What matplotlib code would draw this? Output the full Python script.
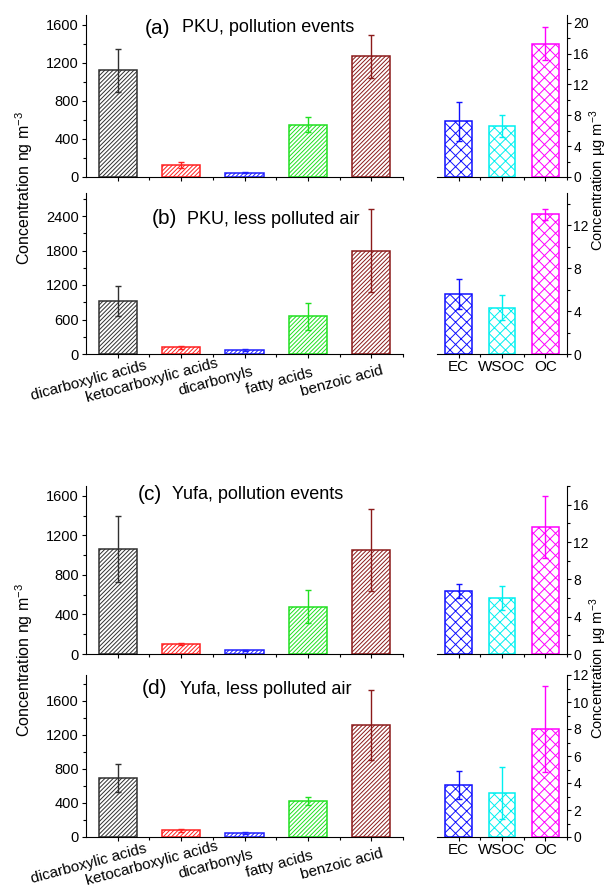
import matplotlib
matplotlib.use('Agg')
import matplotlib.pyplot as plt
import matplotlib.transforms as mtransforms
from matplotlib.ticker import MultipleLocator

plt.rcParams['font.family'] = ['Liberation Sans', 'DejaVu Sans']
plt.rcParams['mathtext.fontset'] = 'custom'
plt.rcParams['mathtext.rm'] = 'Liberation Sans'
plt.rcParams['mathtext.default'] = 'rm'
plt.rcParams['hatch.linewidth'] = 0.7

W, H = 609, 889

categories = ['dicarboxylic acids', 'ketocarboxylic acids', 'dicarbonyls',
              'fatty acids', 'benzoic acid']
carbon_labels = ['EC', 'WSOC', 'OC']

# organic species, ng m-3 (mean, error)
pku_polluted = [1120, 125, 45, 550, 1265]
pku_polluted_err = [225, 30, 5, 75, 230]
pku_clean = [925, 116, 70, 655, 1800]
pku_clean_err = [260, 25, 20, 240, 730]
yufa_polluted = [1063, 100, 37, 480, 1057]
yufa_polluted_err = [330, 10, 8, 170, 415]
yufa_clean = [691, 78, 50, 422, 1312]
yufa_clean_err = [165, 15, 10, 47, 410]

# carbon fractions, ug m-3
pku_polluted_c = [7.2, 6.6, 17.3]
pku_polluted_c_err = [2.5, 1.4, 2.1]
pku_clean_c = [5.6, 4.33, 13.0]
pku_clean_c_err = [1.4, 1.2, 0.55]
yufa_polluted_c = [6.75, 6.0, 13.6]
yufa_polluted_c_err = [0.7, 1.25, 3.3]
yufa_clean_c = [3.85, 3.25, 8.0]
yufa_clean_c_err = [1.07, 1.95, 3.2]

species_colors = ['#303030', '#ff2020', '#2020ff', '#20e020', '#8b1a1a']
carbon_colors = ['#1010ff', '#00f0f0', '#ff00ff']

fig = plt.figure(figsize=(W / 100, H / 100), dpi=100)


def px_axes(x0, y0, x1, y1):
    return fig.add_axes([x0 / W, 1 - y1 / H, (x1 - x0) / W, (y1 - y0) / H])


def style(ax, side, size=10.5, pad=2):
    for s in ['top', 'left', 'right']:
        ax.spines[s].set_visible(False)
    ax.spines[side].set_visible(True)
    ax.yaxis.set_ticks_position(side)
    ax.tick_params(axis='both', which='major', direction='out', length=3,
                   width=0.8, labelsize=size, pad=pad)
    ax.tick_params(axis='both', which='minor', direction='out', length=2,
                   width=0.8)
    ax.set_facecolor('none')


def draw_species(ax, vals, errs, ymax, step, show_labels):
    x = range(len(vals))
    ax.bar(x, vals, width=0.6, facecolor='white', edgecolor=species_colors,
           hatch='////////', linewidth=1.1)
    for i in x:
        ax.errorbar(i, vals[i], yerr=errs[i], color=species_colors[i],
                    elinewidth=1, capsize=2, capthick=1)
    style(ax, 'left')
    ax.set_xlim(-0.5, 4.5)
    ax.set_ylim(0, ymax)
    ax.yaxis.set_major_locator(MultipleLocator(step))
    ax.yaxis.set_minor_locator(MultipleLocator(step / 2))
    ax.set_xticks(list(x))
    ax.set_xticks([i + 0.5 for i in x], minor=True)
    if show_labels:
        ax.set_xticklabels(categories, rotation=15, ha='center', va='center',
                           rotation_mode='anchor', fontsize=11)
        shift = mtransforms.ScaledTranslation(-0.29, -0.2, fig.dpi_scale_trans)
        for lab in ax.get_xticklabels():
            lab.set_transform(lab.get_transform() + shift)
    else:
        ax.set_xticklabels([])


def draw_carbon(ax, vals, errs, ymax, step, show_labels):
    x = range(len(vals))
    ax.bar(x, vals, width=0.62, facecolor='white', edgecolor=carbon_colors,
           hatch='xxx', linewidth=1.1)
    for i in x:
        ax.errorbar(i, vals[i], yerr=errs[i], color=carbon_colors[i],
                    elinewidth=1, capsize=2, capthick=1)
    style(ax, 'right', size=10, pad=1.5)
    ax.set_xlim(-0.5, 2.5)
    ax.set_ylim(0, ymax)
    ax.yaxis.set_major_locator(MultipleLocator(step))
    ax.yaxis.set_minor_locator(MultipleLocator(step / 2))
    ax.set_xticks(list(x))
    ax.set_xticks([i + 0.5 for i in x], minor=True)
    if show_labels:
        ax.set_xticklabels(carbon_labels, fontsize=11)
    else:
        ax.set_xticklabels([])


rows = [(15, 177), (193, 354), (486, 654), (675, 837)]
species = [(pku_polluted, pku_polluted_err, 1700, 400),
           (pku_clean, pku_clean_err, 2800, 600),
           (yufa_polluted, yufa_polluted_err, 1700, 400),
           (yufa_clean, yufa_clean_err, 1900, 400)]
carbon = [(pku_polluted_c, pku_polluted_c_err, 21, 4),
          (pku_clean_c, pku_clean_c_err, 15, 4),
          (yufa_polluted_c, yufa_polluted_c_err, 18, 4),
          (yufa_clean_c, yufa_clean_c_err, 12, 2)]

for k, (top, bottom) in enumerate(rows):
    show = k in (1, 3)
    axl = px_axes(86, top, 403, bottom)
    draw_species(axl, *species[k], show)
    axr = px_axes(437, top, 567, bottom)
    draw_carbon(axr, *carbon[k], show)

titles = [('(a)', 'PKU, pollution events', 145, 182, 28),
          ('(b)', 'PKU, less polluted air', 152, 187, 219),
          ('(c)', 'Yufa, pollution events', 138, 172, 495),
          ('(d)', 'Yufa, less polluted air', 142, 180, 689)]
for tag, txt, xt, xs, yc in titles:
    fig.text(xt / W, 1 - yc / H, tag, fontsize=15, va='center', ha='left')
    fig.text(xs / W, 1 - yc / H, txt, fontsize=13, va='center', ha='left')

for yc in (188, 660):
    fig.text(24 / W, 1 - yc / H, 'Concentration ng m$^{-3}$', rotation=90,
             fontsize=11.5, va='center', ha='center')
for yc in (180, 668):
    fig.text(598.5 / W, 1 - yc / H, 'Concentration \u00b5g m$^{-3}$',
             rotation=90, fontsize=10.5, va='center', ha='center')

fig.savefig('out.png', dpi=100)
